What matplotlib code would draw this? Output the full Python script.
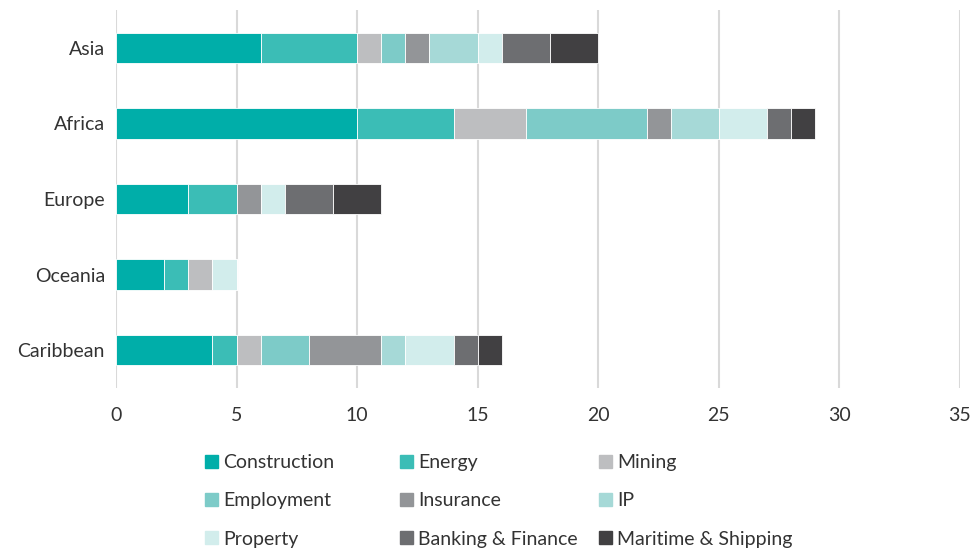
import matplotlib.pyplot as plt
from matplotlib.patches import Patch

plt.rcParams['font.family'] = ['Lato', 'DejaVu Sans']

regions = ['Asia', 'Africa', 'Europe', 'Oceania', 'Caribbean']
sectors = ['Construction', 'Energy', 'Mining', 'Employment', 'Insurance',
           'IP', 'Property', 'Banking & Finance', 'Maritime & Shipping']
construction = [6, 10, 3, 2, 4]
energy = [4, 4, 2, 1, 1]
mining = [1, 3, 0, 1, 1]
employment = [1, 5, 0, 0, 2]
insurance = [1, 1, 1, 0, 3]
ip = [2, 2, 0, 0, 1]
property_ = [1, 2, 1, 1, 2]
banking = [2, 1, 2, 0, 1]
maritime = [2, 1, 2, 0, 1]
colors = ['#00AEA9', '#3BBDB6', '#BDBEC0', '#7DCBC8', '#939598',
          '#A6D9D7', '#D2EDEC', '#6D6E71', '#414042']

series = [construction, energy, mining, employment, insurance,
          ip, property_, banking, maritime]

fig = plt.figure(figsize=(9.73, 5.52), dpi=100)
ax = fig.add_axes([116 / 973, 1 - 388 / 552, (960 - 116) / 973, 378 / 552])

ypos = list(range(len(regions)))[::-1]
left = [0] * len(regions)
for name, vals, c in zip(sectors, series, colors):
    ax.barh(ypos, vals, left=left, height=0.4, color=c, edgecolor='white',
            linewidth=0.6, label=name, zorder=3)
    left = [a + b for a, b in zip(left, vals)]

ax.set_xlim(0, 35)
ax.set_ylim(-0.5, 4.5)
ax.set_xticks(range(0, 36, 5))
ax.set_yticks(ypos)
ax.set_yticklabels(regions)
ax.grid(axis='x', color='#D9D9D9', linewidth=1.5, zorder=0)
for s in ax.spines.values():
    s.set_visible(False)
ax.tick_params(length=0, labelsize=14, labelcolor='#333333', pad=8)
ax.tick_params(axis='x', pad=14)

# legend in three columns, each placed separately so spacing is even
cols = [[0, 3, 6], [1, 4, 7], [2, 5, 8]]
xs = [205, 400, 599]
for idx, x0 in zip(cols, xs):
    handles = [Patch(color=colors[i]) for i in idx]
    labels = [sectors[i] for i in idx]
    leg = fig.legend(handles, labels, loc='upper left',
                     bbox_to_anchor=(x0 / 973, 1 - 454 / 552),
                     frameon=False, fontsize=14, handlelength=0.65,
                     handleheight=0.65, handletextpad=0.3, labelspacing=1.1,
                     borderaxespad=0, borderpad=0)
    for t in leg.get_texts():
        t.set_color('#333333')

fig.savefig('out.png', dpi=100)
